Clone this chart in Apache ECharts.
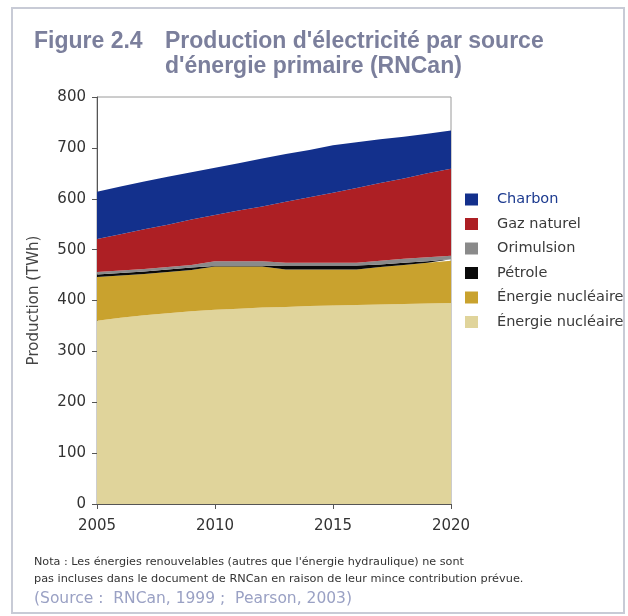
<!DOCTYPE html>
<html>
<head>
<meta charset="utf-8">
<script src="https://cdn.jsdelivr.net/npm/echarts/dist/echarts.min.js"></script>
<style>html,body{margin:0;padding:0;background:#fff}#c{width:628px;height:616px}</style>
</head>
<body>
<div id="c"></div>
<script>
// ---- data (TWh), one value per year ----
const years = ['2005','2006','2007','2008','2009','2010','2011','2012','2013','2014','2015','2016','2017','2018','2019','2020'];
const hydro = [360, 366, 371, 375, 379, 382, 384, 386, 387, 389, 390, 391, 392, 393, 394, 395];
const nucleaire = [86, 83, 81, 81, 81, 85, 83, 81, 74, 72, 71, 70, 74, 77, 80, 83];
const petrole = [5, 5, 5, 5, 5, 1, 1, 1, 8, 8, 8, 8, 5, 4, 3, 3];
const orimulsion = [5, 5, 5, 5, 5, 9, 9, 9, 5, 5, 5, 5, 7, 8, 8, 7];
const gaz = [65, 71, 78, 83, 89, 91, 100, 108, 120, 129, 138, 147, 153, 158, 165, 171];
const charbon = [93, 94, 94, 94, 93, 93, 93, 94, 94, 93, 93, 90, 86, 82, 78, 75];

const xTicks = ['2005', '2010', '2015', '2020'];
const yTicks = ['0', '100', '200', '300', '400', '500', '600', '700', '800'];

const seriesKeys = ['Charbon', 'Gaz naturel', 'Orimulsion', 'Pétrole', 'Énergie nucléaire', 'Énergie nucléaire (2)'];
const legendLabels = ['Charbon', 'Gaz naturel', 'Orimulsion', 'Pétrole', 'Énergie nucléaire', 'Énergie nucléaire'];
const colors = ['#13308c', '#ad1f24', '#8a8a8a', '#0a0a0a', '#c9a22e', '#e0d49b'];

const titleA = 'Figure 2.4';
const titleB = "Production d'électricité par source\nd'énergie primaire (RNCan)";
const note1 = "Nota : Les énergies renouvelables (autres que l'énergie hydraulique) ne sont";
const note2 = "pas incluses dans le document de RNCan en raison de leur mince contribution prévue.";
const source = "(Source :  RNCan, 1999 ;  Pearson, 2003)";

// stacking order bottom -> top
const stackOrder = [
  [5, hydro], [4, nucleaire], [3, petrole], [2, orimulsion], [1, gaz], [0, charbon]
];

const FONT = 'DejaVu Sans';
const isTickYear = (i, v) => xTicks.indexOf(String(v)) >= 0;
const chart = echarts.init(document.getElementById('c'), null, {renderer: 'canvas'});
chart.setOption({
  backgroundColor: '#ffffff',
  animation: false,
  title: [
    {text: titleA, left: 29, top: 24, padding: 5,
     textStyle: {fontFamily: 'Liberation Sans', fontWeight: 'bold', fontSize: 23, color: '#7b7f9c', lineHeight: 25}},
    {text: titleB, left: 160, top: 24, padding: 5,
     textStyle: {fontFamily: 'Liberation Sans', fontWeight: 'bold', fontSize: 23, color: '#7b7f9c', lineHeight: 25}}
  ],
  grid: {left: 97, top: 97, width: 354, height: 407, show: true, borderColor: '#9a9a9a', borderWidth: 1, backgroundColor: '#fff'},
  legend: {
    orient: 'vertical', left: 460, top: 187,
    itemWidth: 13, itemHeight: 12, itemGap: 9.5, icon: 'rect',
    data: seriesKeys.map((k, i) => ({name: k, textStyle: i === 0 ? {color: '#1c3a8f'} : {}})),
    formatter: name => legendLabels[seriesKeys.indexOf(name)],
    textStyle: {fontFamily: FONT, fontSize: 14.5, color: '#3a3a3a', padding: [0, 0, 0, 14]}
  },
  xAxis: {
    type: 'category', data: years, boundaryGap: false,
    axisLine: {lineStyle: {color: '#555', width: 1}},
    axisTick: {show: true, length: 5, interval: isTickYear, lineStyle: {color: '#555'}},
    axisLabel: {fontFamily: FONT, fontSize: 15, color: '#333', margin: 15, interval: isTickYear},
    splitLine: {show: false}
  },
  yAxis: {
    type: 'value', min: 0, max: 800, interval: 100,
    name: 'Production (TWh)', nameLocation: 'middle', nameGap: 55, nameRotate: 90,
    nameTextStyle: {fontFamily: FONT, fontSize: 15, color: '#444'},
    axisLine: {show: true, lineStyle: {color: '#555', width: 1}},
    axisTick: {show: true, length: 5, lineStyle: {color: '#555'}},
    axisLabel: {fontFamily: FONT, fontSize: 15, color: '#333', margin: 11,
      formatter: v => yTicks[Math.round(v / 100)]},
    splitLine: {show: false}
  },
  series: stackOrder.map(([idx, arr]) => ({
    name: seriesKeys[idx], type: 'line', stack: 'total',
    data: arr, symbol: 'none', smooth: false,
    color: colors[idx],
    lineStyle: {width: 0},
    areaStyle: {color: colors[idx], opacity: 1}
  })),
  graphic: [
    {type: 'rect', shape: {x: 12, y: 8, width: 612, height: 605}, style: {fill: 'none', stroke: '#c8cbd6', lineWidth: 2}, silent: true},
    {type: 'text', x: 34, y: 562, style: {text: note1, fontFamily: FONT, fontSize: 11.2, fill: '#333', textVerticalAlign: 'middle'}},
    {type: 'text', x: 34, y: 579, style: {text: note2, fontFamily: FONT, fontSize: 11.3, fill: '#333', textVerticalAlign: 'middle'}},
    {type: 'text', x: 34, y: 599, style: {text: source, fontFamily: FONT, fontSize: 15.5, fill: '#9aa1c4', textVerticalAlign: 'middle'}}
  ]
});
</script>
</body>
</html>
